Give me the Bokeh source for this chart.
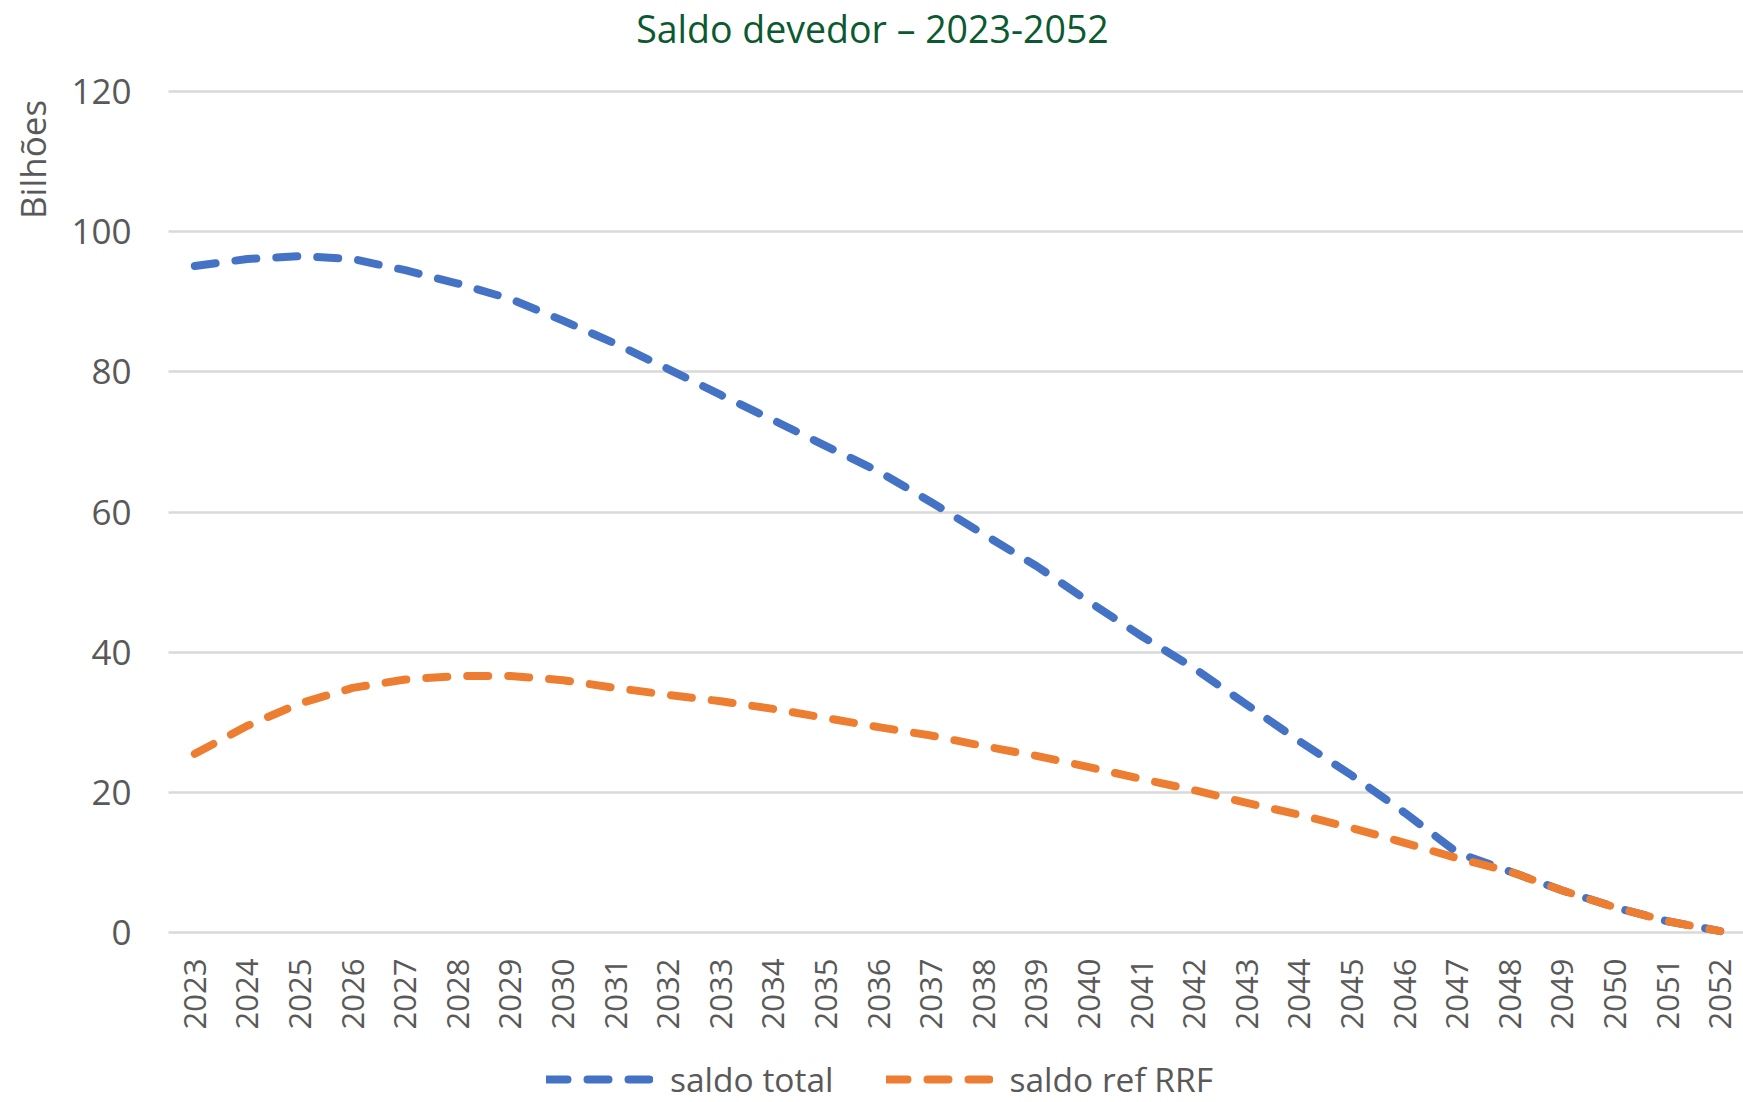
import numpy as np
from bokeh.plotting import figure
from bokeh.models import Range1d, FixedTicker, Legend, LegendItem, Label
from bokeh.embed import file_html
from bokeh.resources import INLINE

# ---- data ----
years = list(range(2023, 2053))
saldo_total = [95.1, 96.1, 96.5, 96.1, 94.5, 92.6, 90.4, 87.3, 84.0, 80.4,
               76.7, 73.1, 69.4, 65.8, 61.4, 56.8, 52.3, 47.2, 42.3, 37.7,
               32.5, 27.3, 22.4, 17.1, 11.4, 8.7, 6.0, 3.6, 1.6, 0.2]
saldo_ref_rrf = [25.5, 29.5, 32.7, 34.9, 36.1, 36.6, 36.6, 36.0, 34.9, 33.9,
                 33.0, 31.9, 30.6, 29.3, 28.1, 26.6, 25.2, 23.6, 21.9, 20.3,
                 18.5, 16.8, 14.9, 12.8, 10.6, 8.7, 6.0, 3.6, 1.6, 0.2]
y_ticks = [0, 20, 40, 60, 80, 100, 120]
title_text = "Saldo devedor \u2013 2023-2052"
y_label = "Bilh\u00f5es"
series_names = ["saldo total", "saldo ref RRF"]
colors = ["#4472C4", "#ED7D31"]

FONT = "Open Sans"
GREY = "#595959"

W, H = 1743, 1102
# plot area in pixels (frame covers whole canvas; axes placed at fixed locations)
LEFT, TOP, BOTTOM = 168, 91, 932
STEP = 52.6                       # px per year
PX_PER_UNIT = (BOTTOM - TOP) / 120.0

x0 = 2022.5 - LEFT / STEP
x1 = 2022.5 + (W - LEFT) / STEP
y0 = -(H - BOTTOM) / PX_PER_UNIT
y1 = 120 + TOP / PX_PER_UNIT

p = figure(width=W, height=H, output_backend="svg", toolbar_location=None,
           x_range=Range1d(x0, x1), y_range=Range1d(y0, y1),
           min_border=0, min_border_left=0, min_border_right=0,
           min_border_top=0, min_border_bottom=0)
p.outline_line_color = None
p.background_fill_color = "white"
p.border_fill_color = "white"

p.xgrid.visible = False
p.ygrid.grid_line_color = "#D9D9D9"
p.ygrid.grid_line_width = 2.5
p.ygrid.cross_bounds = (2022.5, x1)

p.yaxis.ticker = FixedTicker(ticks=y_ticks)
p.xaxis.ticker = FixedTicker(ticks=years)
p.xaxis.major_label_overrides = {y: str(y) for y in years}
p.xaxis.major_label_orientation = np.pi / 2
p.xaxis.fixed_location = 0
p.yaxis.fixed_location = 2022.5
for ax in (p.xaxis[0], p.yaxis[0]):
    ax.axis_line_color = None
    ax.major_tick_line_color = None
    ax.minor_tick_line_color = None
    ax.major_label_text_font = FONT
    ax.major_label_text_color = GREY
p.xaxis.major_label_text_font_size = "31px"
p.yaxis.major_label_text_font_size = "35px"
p.xaxis.major_label_standoff = 20
p.yaxis.major_label_standoff = 31

r1 = p.line(years, saldo_total, line_color=colors[0], line_width=8,
            line_dash="21 20", line_cap="round", line_join="round")
r2 = p.line(years, saldo_ref_rrf, line_color=colors[1], line_width=8,
            line_dash="21 20", line_cap="round", line_join="round")

legend = Legend(items=[LegendItem(label=series_names[0], renderers=[r1]),
                       LegendItem(label=series_names[1], renderers=[r2])],
                orientation="horizontal", location=(546, H - 1086 - 16),
                padding=0, margin=0, spacing=52, label_standoff=17,
                glyph_width=107, glyph_height=32, label_height=32,
                label_text_font=FONT, label_text_font_size="33.5px",
                label_text_color=GREY, border_line_color=None,
                background_fill_alpha=0)
p.add_layout(legend, "center")

title = Label(x=872, y=H - 28, x_units="screen", y_units="screen", text=title_text,
              text_font=FONT, text_font_size="37.5px", text_color="#0B5A2F",
              text_align="center", text_baseline="middle")
p.add_layout(title)

ylab = Label(x=32, y=H - 159, x_units="screen", y_units="screen", text=y_label,
             angle=np.pi / 2, text_font=FONT, text_font_size="35px",
             text_color=GREY, text_align="center", text_baseline="middle")
p.add_layout(ylab)

open("out.html", "w").write(file_html(p, INLINE))
